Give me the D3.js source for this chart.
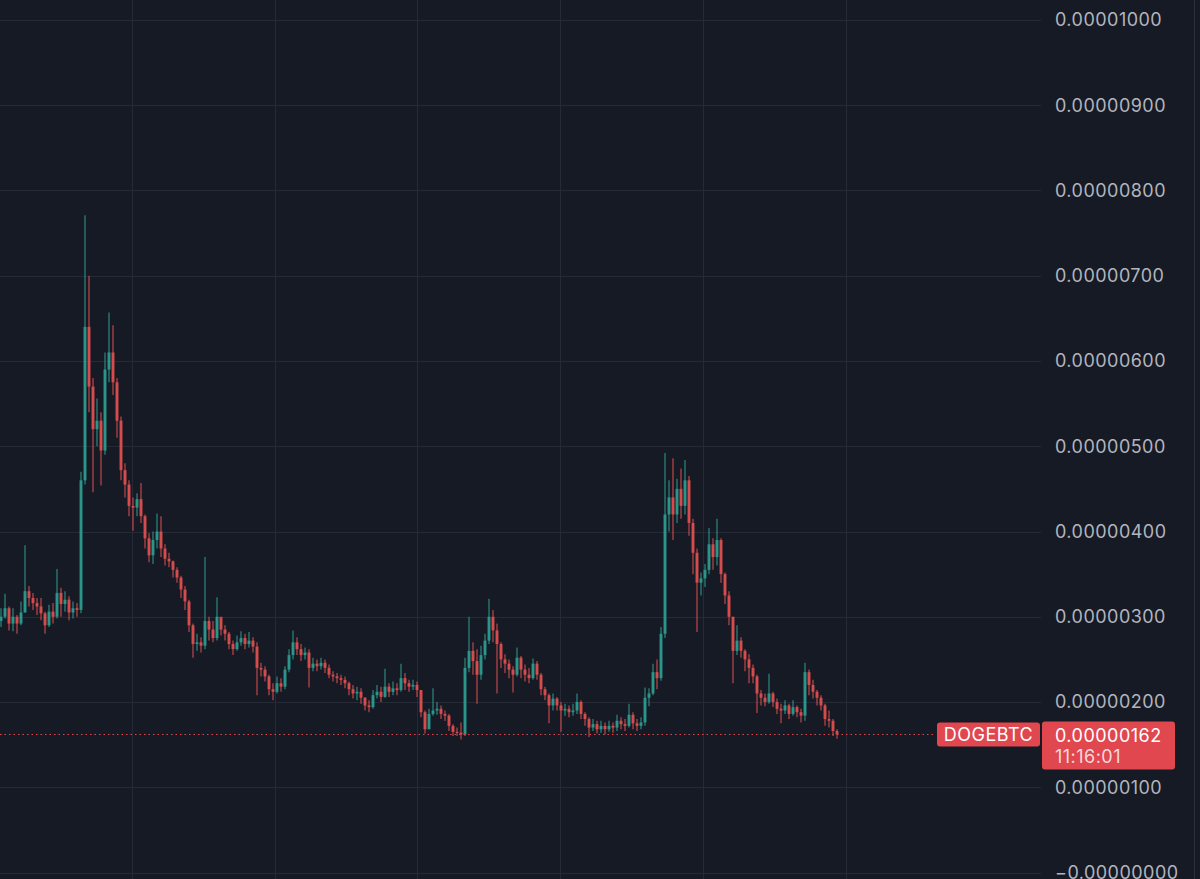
<!DOCTYPE html>
<html><head><meta charset="utf-8">
<script src="https://cdn.jsdelivr.net/npm/d3@7"></script>
<style>html,body{margin:0;padding:0;background:#161a25;overflow:hidden}</style>
</head><body><svg id="c" width="1200" height="879"></svg>
<script>
// values in satoshi (1e-8 BTC); open of each candle = previous close
const firstOpen = 295;
const closes = [300,310,292,300,292,305,330,322,316,312,304,290,306,300,328,315,320,305,310,308,
460,640,570,520,530,495,590,610,575,530,472,455,430,428,438,418,392,372,390,400,
380,368,365,355,346,332,318,290,268,270,266,295,285,275,300,285,280,268,262,270,
275,268,272,265,240,238,230,215,212,222,218,238,255,270,262,255,258,240,245,242,
246,240,232,230,228,226,222,215,210,212,205,196,194,208,212,206,218,212,216,214,
228,222,218,220,214,188,168,186,190,192,186,184,172,165,164,162,240,260,248,232,
255,272,300,284,268,250,245,238,232,252,238,232,228,245,232,215,208,196,204,196,
190,192,188,190,200,186,180,170,174,168,172,168,172,170,178,174,172,185,175,172,
176,205,210,235,228,280,420,440,420,450,430,460,410,375,340,345,355,385,370,390,
350,325,300,260,272,260,250,240,230,210,205,200,210,200,192,190,196,186,194,188,
184,235,220,212,205,196,180,178,166,162];
const highs = [310,327,312,310,302,318,384,336,328,322,322,306,314,316,356,334,330,324,318,316,
470,771,700,580,556,540,610,657,642,580,535,480,460,440,445,457,420,398,400,421,
418,385,375,366,358,348,336,320,292,280,276,370,300,295,323,298,290,282,272,278,
283,280,282,276,270,246,242,232,222,230,228,242,262,284,276,268,264,262,252,250,
252,250,244,236,234,232,230,224,220,218,216,206,202,214,220,218,239,222,224,222,
245,234,226,226,224,214,190,192,216,200,196,190,186,174,170,176,252,300,270,262,
266,280,321,308,292,270,256,250,242,264,254,244,240,251,248,234,218,210,210,206,
200,198,196,198,210,202,188,182,180,178,178,176,178,176,185,182,180,198,188,180,
182,217,216,245,250,288,492,460,486,462,474,484,465,415,380,352,362,404,392,415,
392,352,330,300,290,276,262,256,244,232,214,210,233,212,204,198,202,198,202,196,
192,246,238,226,214,208,198,190,180,168];
const lows = [288,298,284,283,280,290,305,312,308,302,296,280,288,292,298,300,306,296,298,300,
304,455,540,446,500,454,490,575,560,510,460,440,418,401,418,410,380,364,362,380,
370,360,358,346,340,322,308,282,252,260,258,262,272,270,272,278,272,262,255,260,
266,262,264,258,208,230,224,208,202,210,212,215,235,250,255,248,250,217,236,236,
238,234,228,224,222,220,216,208,204,202,198,190,188,192,204,200,205,206,208,208,
212,214,212,214,206,182,163,168,184,185,180,178,166,160,160,156,160,235,232,198,
226,250,268,270,210,240,234,228,211,230,228,224,222,226,226,208,202,175,190,190,
165,184,182,184,186,180,172,159,166,163,164,162,165,164,166,168,166,170,168,166,
168,172,195,208,215,225,275,400,390,410,415,420,395,350,282,325,335,350,355,360,
340,315,290,222,255,252,236,222,222,187,196,195,198,194,186,175,186,180,184,182,
176,178,208,204,196,190,172,170,160,157];
const yTicks = [0,100,200,300,400,500,600,700,800,900,1000];
const timeGridIdx = [32.75, 68.4, 104, 139.75, 175.5, 211.25];
const symbol = "DOGEBTC";
const lastPrice = 162;
const countdown = "11:16:01";

const candles = closes.map((c,i)=>({i, o: i===0?firstOpen:closes[i-1], h: highs[i], l: lows[i], c}));

const svg = d3.select("#c");
const W = 1200, H = 879, plotR = 1041;
const x = d3.scaleLinear().domain([0, closes.length-1]).range([1, 837]);
const y = d3.scaleLinear().domain([0, 1000]).range([872.5, 20]);
const FONT = "Inter, Roboto, 'Noto Sans', sans-serif";
const FS = 18;

svg.append("rect").attr("width",W).attr("height",H).attr("fill","#161a25");

// measure font to match reference label width (~111px for "0.00000900")
const probe = svg.append("text").attr("font-family",FONT).attr("font-size",FS).text("0.00000900");
const pw = probe.node().getComputedTextLength();
probe.remove();
const LS = Math.max(-1, Math.min(3, (111 - pw) / 10));

// grid
const g = svg.append("g");
g.selectAll(".hg").data(yTicks).join("line")
  .attr("x1",0).attr("x2",plotR).attr("y1",d=>Math.round(y(d))+0.5).attr("y2",d=>Math.round(y(d))+0.5)
  .attr("stroke","#262a36").attr("stroke-width",1);
g.selectAll(".vg").data(timeGridIdx).join("line")
  .attr("y1",0).attr("y2",H).attr("x1",d=>Math.round(x(d))+0.5).attr("x2",d=>Math.round(x(d))+0.5)
  .attr("stroke","#262a36").attr("stroke-width",1);

// candles
const up = "#2fa496", down = "#ec5252";
const cg = svg.append("g");
cg.selectAll("line.w").data(candles).join("line")
  .attr("x1",d=>x(d.i)).attr("x2",d=>x(d.i))
  .attr("y1",d=>y(d.h)).attr("y2",d=>y(d.l))
  .attr("stroke",d=>d.c>=d.o?up:down).attr("stroke-width",1.2).attr("opacity",0.8);
cg.selectAll("rect.b").data(candles).join("rect")
  .attr("x",d=>x(d.i)-1.5).attr("width",3)
  .attr("y",d=>y(Math.max(d.o,d.c))).attr("height",d=>Math.max(1,Math.abs(y(d.o)-y(d.c))))
  .attr("fill",d=>d.c>=d.o?up:down).attr("opacity",0.8);

// last price dotted line
const py = Math.round(y(lastPrice))+0.5;
svg.append("line").attr("x1",0).attr("x2",936).attr("y1",py).attr("y2",py)
  .attr("stroke","#e0474f").attr("stroke-width",1).attr("stroke-dasharray","1.5,3");

// right axis labels
const fmt = v => (v===0 ? "\u22120.00000000" : (v/1e8).toFixed(8));
svg.append("g").selectAll("text").data(yTicks).join("text")
  .attr("x",1055).attr("y",d=>y(d)).attr("dy","0.36em")
  .attr("fill","#b2b5be").attr("font-family",FONT).attr("font-size",FS).attr("letter-spacing",LS)
  .text(d=>fmt(d));

// symbol label
svg.append("rect").attr("x",937).attr("y",py-12).attr("width",103).attr("height",24).attr("rx",3).attr("fill","#e0474f");
svg.append("text").attr("x",988.5).attr("y",py).attr("dy","0.36em").attr("text-anchor","middle")
  .attr("fill","#ffffff").attr("font-family",FONT).attr("font-size",FS).attr("letter-spacing",LS).text(symbol);
// price label
svg.append("rect").attr("x",1042).attr("y",py-13).attr("width",133).attr("height",48).attr("rx",3).attr("fill","#e0474f");
svg.append("text").attr("x",1055).attr("y",py+1).attr("dy","0.36em")
  .attr("fill","#ffffff").attr("font-family",FONT).attr("font-size",FS).attr("letter-spacing",LS).text(fmt(lastPrice));
svg.append("text").attr("x",1055).attr("y",py+22).attr("dy","0.36em")
  .attr("fill","#f6d9da").attr("font-family",FONT).attr("font-size",FS).attr("letter-spacing",LS).text(countdown);

// right edge separator
svg.append("line").attr("x1",1194.5).attr("x2",1194.5).attr("y1",0).attr("y2",H).attr("stroke","#2a2e39");
</script></body></html>
